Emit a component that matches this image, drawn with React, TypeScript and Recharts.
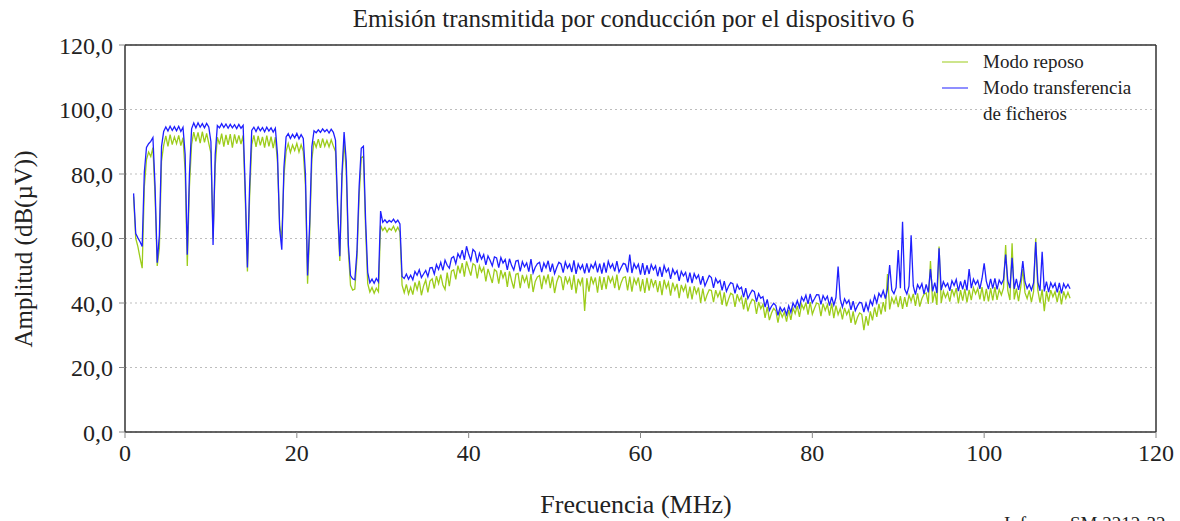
import {
  LineChart,
  Line,
  XAxis,
  YAxis,
  CartesianGrid,
  ReferenceLine,
} from "recharts";

const SERIF = '"Liberation Serif", "Times New Roman", serif';

// frecuencia (MHz), paso 0,25
const freq = [
  1, 1.25, 1.5, 1.75, 2, 2.25, 2.5, 2.75, 3, 3.25,
  3.5, 3.75, 4, 4.25, 4.5, 4.75, 5, 5.25, 5.5, 5.75,
  6, 6.25, 6.5, 6.75, 7, 7.25, 7.5, 7.75, 8, 8.25,
  8.5, 8.75, 9, 9.25, 9.5, 9.75, 10, 10.25, 10.5, 10.75,
  11, 11.25, 11.5, 11.75, 12, 12.25, 12.5, 12.75, 13, 13.25,
  13.5, 13.75, 14, 14.25, 14.5, 14.75, 15, 15.25, 15.5, 15.75,
  16, 16.25, 16.5, 16.75, 17, 17.25, 17.5, 17.75, 18, 18.25,
  18.5, 18.75, 19, 19.25, 19.5, 19.75, 20, 20.25, 20.5, 20.75,
  21, 21.25, 21.5, 21.75, 22, 22.25, 22.5, 22.75, 23, 23.25,
  23.5, 23.75, 24, 24.25, 24.5, 24.75, 25, 25.25, 25.5, 25.75,
  26, 26.25, 26.5, 26.75, 27, 27.25, 27.5, 27.75, 28, 28.25,
  28.5, 28.75, 29, 29.25, 29.5, 29.75, 30, 30.25, 30.5, 30.75,
  31, 31.25, 31.5, 31.75, 32, 32.25, 32.5, 32.75, 33, 33.25,
  33.5, 33.75, 34, 34.25, 34.5, 34.75, 35, 35.25, 35.5, 35.75,
  36, 36.25, 36.5, 36.75, 37, 37.25, 37.5, 37.75, 38, 38.25,
  38.5, 38.75, 39, 39.25, 39.5, 39.75, 40, 40.25, 40.5, 40.75,
  41, 41.25, 41.5, 41.75, 42, 42.25, 42.5, 42.75, 43, 43.25,
  43.5, 43.75, 44, 44.25, 44.5, 44.75, 45, 45.25, 45.5, 45.75,
  46, 46.25, 46.5, 46.75, 47, 47.25, 47.5, 47.75, 48, 48.25,
  48.5, 48.75, 49, 49.25, 49.5, 49.75, 50, 50.25, 50.5, 50.75,
  51, 51.25, 51.5, 51.75, 52, 52.25, 52.5, 52.75, 53, 53.25,
  53.5, 53.75, 54, 54.25, 54.5, 54.75, 55, 55.25, 55.5, 55.75,
  56, 56.25, 56.5, 56.75, 57, 57.25, 57.5, 57.75, 58, 58.25,
  58.5, 58.75, 59, 59.25, 59.5, 59.75, 60, 60.25, 60.5, 60.75,
  61, 61.25, 61.5, 61.75, 62, 62.25, 62.5, 62.75, 63, 63.25,
  63.5, 63.75, 64, 64.25, 64.5, 64.75, 65, 65.25, 65.5, 65.75,
  66, 66.25, 66.5, 66.75, 67, 67.25, 67.5, 67.75, 68, 68.25,
  68.5, 68.75, 69, 69.25, 69.5, 69.75, 70, 70.25, 70.5, 70.75,
  71, 71.25, 71.5, 71.75, 72, 72.25, 72.5, 72.75, 73, 73.25,
  73.5, 73.75, 74, 74.25, 74.5, 74.75, 75, 75.25, 75.5, 75.75,
  76, 76.25, 76.5, 76.75, 77, 77.25, 77.5, 77.75, 78, 78.25,
  78.5, 78.75, 79, 79.25, 79.5, 79.75, 80, 80.25, 80.5, 80.75,
  81, 81.25, 81.5, 81.75, 82, 82.25, 82.5, 82.75, 83, 83.25,
  83.5, 83.75, 84, 84.25, 84.5, 84.75, 85, 85.25, 85.5, 85.75,
  86, 86.25, 86.5, 86.75, 87, 87.25, 87.5, 87.75, 88, 88.25,
  88.5, 88.75, 89, 89.25, 89.5, 89.75, 90, 90.25, 90.5, 90.75,
  91, 91.25, 91.5, 91.75, 92, 92.25, 92.5, 92.75, 93, 93.25,
  93.5, 93.75, 94, 94.25, 94.5, 94.75, 95, 95.25, 95.5, 95.75,
  96, 96.25, 96.5, 96.75, 97, 97.25, 97.5, 97.75, 98, 98.25,
  98.5, 98.75, 99, 99.25, 99.5, 99.75, 100, 100.25, 100.5, 100.75,
  101, 101.25, 101.5, 101.75, 102, 102.25, 102.5, 102.75, 103, 103.25,
  103.5, 103.75, 104, 104.25, 104.5, 104.75, 105, 105.25, 105.5, 105.75,
  106, 106.25, 106.5, 106.75, 107, 107.25, 107.5, 107.75, 108, 108.25,
  108.5, 108.75, 109, 109.25, 109.5, 109.75, 110,
];

// Modo reposo, dB(µV)
const reposo = [
  73.0, 60.0, 57.5, 54.0, 50.8, 76.0, 84.5, 86.8, 85.4, 88.2,
  73.0, 51.5, 57.0, 84.0, 88.9, 91.8, 88.6, 92.2, 89.1, 91.5,
  89.4, 92.0, 88.8, 91.3, 81.0, 51.5, 76.0, 89.2, 93.0, 90.1,
  92.9, 89.6, 93.1, 89.8, 92.6, 89.5, 86.5, 60.0, 82.5, 91.4,
  89.2, 92.5, 88.5, 92.1, 89.0, 92.4, 88.2, 92.3, 89.4, 92.0,
  89.3, 92.0, 72.0, 49.8, 72.5, 89.0, 92.0, 88.4, 91.8, 88.9,
  91.5, 88.2, 91.9, 88.6, 91.6, 88.0, 91.4, 83.5, 64.0, 60.0,
  79.5, 87.0, 89.4, 86.7, 89.0, 87.3, 89.5, 86.8, 89.1, 87.0,
  76.5, 46.0, 62.0, 84.5, 90.2, 88.3, 90.8, 88.1, 91.0, 88.6,
  90.4, 88.4, 90.6, 88.7, 87.0, 68.0, 53.0, 78.0, 90.0, 81.0,
  56.0, 45.5, 44.0, 44.3, 54.0, 73.0, 85.0, 85.5, 63.0, 46.0,
  43.4, 44.8, 43.0, 44.6, 43.5, 64.0, 62.5, 63.4, 62.0, 63.2,
  62.6, 63.8, 62.2, 63.5, 62.0, 45.5, 43.2, 45.8, 42.8, 44.9,
  42.6, 46.4, 44.1, 46.9, 42.4, 45.3, 47.1, 43.3, 46.8, 47.5,
  44.5, 48.3, 46.0, 48.8, 45.6, 44.2, 49.4, 45.2, 49.9, 50.3,
  47.3, 51.6, 49.2, 52.4, 48.2, 52.9, 50.6, 48.5, 52.2, 51.7,
  47.6, 51.5, 49.6, 51.0, 46.7, 50.6, 48.4, 46.2, 50.4, 49.8,
  46.0, 50.2, 47.8, 49.6, 45.0, 49.8, 46.9, 44.5, 48.9, 49.2,
  44.6, 48.7, 46.5, 48.3, 44.5, 49.0, 43.4, 46.7, 48.1, 48.5,
  44.3, 48.5, 46.2, 48.9, 44.6, 48.2, 43.1, 46.5, 48.4, 47.9,
  44.0, 48.3, 46.1, 47.8, 44.1, 48.7, 43.0, 47.5, 45.6, 47.9,
  37.5, 47.7, 43.5, 48.2, 46.0, 47.9, 43.2, 48.3, 44.1, 48.0,
  44.3, 48.5, 46.4, 48.0, 44.6, 48.8, 44.0, 46.3, 47.9, 48.1,
  43.9, 48.2, 43.5, 47.6, 45.8, 47.9, 43.6, 47.4, 43.1, 47.8,
  43.8, 47.5, 45.1, 47.1, 43.4, 46.8, 42.4, 47.2, 44.6, 46.4,
  42.3, 46.3, 44.0, 45.9, 41.5, 45.6, 43.7, 45.5, 41.4, 45.1,
  41.1, 45.2, 42.9, 44.8, 40.0, 44.5, 40.5, 42.6, 44.1, 43.9,
  40.3, 44.0, 41.9, 43.6, 39.4, 43.3, 39.0, 41.2, 43.0, 42.6,
  38.8, 42.7, 40.6, 42.0, 38.0, 41.6, 37.4, 39.8, 41.2, 40.7,
  36.6, 40.3, 38.2, 39.6, 35.4, 38.8, 34.7, 36.9, 38.3, 37.6,
  33.9, 37.5, 35.6, 37.2, 34.2, 37.8, 34.8, 38.5, 36.7, 39.1,
  35.7, 39.6, 38.1, 40.1, 36.4, 40.3, 36.5, 38.4, 40.0, 39.7,
  35.9, 39.8, 37.7, 39.5, 36.1, 39.9, 35.3, 39.2, 36.4, 38.3,
  34.9, 38.5, 36.4, 37.9, 33.8, 37.4, 33.3, 35.5, 36.9, 36.5,
  31.6, 35.9, 33.0, 37.4, 34.6, 38.6, 35.7, 39.7, 36.5, 40.3,
  37.3, 49.0, 38.0, 41.6, 39.9, 41.9, 38.7, 42.1, 38.2, 41.8,
  38.8, 42.5, 40.6, 42.8, 39.1, 43.0, 38.9, 41.3, 42.7, 43.1,
  39.7, 53.0, 40.1, 43.5, 39.4, 57.5, 40.0, 43.6, 41.7, 43.3,
  40.4, 44.3, 42.2, 44.6, 39.9, 44.0, 40.7, 44.4, 40.2, 44.1,
  40.9, 44.7, 42.8, 44.5, 41.1, 44.9, 40.6, 44.4, 40.5, 44.6,
  40.8, 44.9, 41.0, 44.2, 42.5, 44.7, 58.0, 43.8, 40.9, 58.5,
  41.1, 44.5, 40.6, 44.8, 50.5, 43.2, 41.4, 43.9, 40.3, 43.5,
  60.0, 43.9, 40.1, 44.2, 37.5, 43.7, 40.4, 44.0, 41.9, 43.5,
  40.3, 43.8, 39.6, 43.6, 41.4, 43.3, 41.5,
];

// Modo transferencia de ficheros, dB(µV)
const transferencia = [
  74.0, 61.5, 60.2, 59.0, 57.5, 80.5, 88.2, 89.4, 90.1, 91.3,
  76.0, 52.5, 61.0, 88.5, 93.2, 94.6, 93.3, 94.8, 93.5, 94.7,
  93.4, 94.8, 93.2, 94.5, 86.0, 55.0, 80.0, 94.0, 95.8, 94.3,
  95.9, 94.5, 95.6, 94.3, 95.7, 94.6, 90.0, 58.0, 86.0, 95.0,
  94.3, 95.6, 94.4, 95.5, 94.2, 95.4, 94.3, 95.3, 94.1, 95.4,
  94.2, 95.1, 75.0, 51.0, 76.0, 93.5, 94.5, 93.2, 94.6, 93.4,
  94.4, 93.1, 94.5, 93.3, 94.3, 93.0, 94.2, 86.0, 63.0, 56.5,
  82.0, 91.5, 92.5, 91.0, 92.3, 91.2, 92.6, 90.9, 92.2, 91.0,
  80.0, 48.5, 65.0, 88.5, 93.4, 92.8, 93.7, 92.9, 94.0, 93.1,
  93.8, 92.7, 93.9, 92.9, 90.5, 70.0, 54.5, 80.0, 93.0, 84.0,
  58.0, 48.5, 47.5, 47.2, 56.0, 76.0, 88.0, 88.6, 66.0, 49.5,
  46.3, 47.4, 46.1, 47.6, 46.5, 68.5, 65.0, 65.8, 64.9, 65.6,
  65.1, 66.0, 64.9, 65.7, 64.5, 48.2, 47.6, 49.0, 47.4, 48.6,
  47.2, 49.8, 48.6, 50.3, 47.9, 49.0, 50.1, 48.2, 50.9, 51.0,
  49.0, 51.9, 50.4, 52.6, 50.1, 53.3, 51.7, 50.8, 53.9, 54.4,
  52.2, 55.3, 54.0, 56.4, 53.4, 57.6, 55.1, 53.2, 56.6, 55.9,
  52.5, 55.4, 53.6, 55.0, 51.8, 54.6, 53.2, 51.5, 54.3, 54.0,
  51.0, 54.1, 52.4, 53.5, 50.3, 53.7, 51.6, 50.2, 53.0, 53.2,
  49.8, 52.8, 51.2, 52.4, 49.7, 53.6, 49.3, 51.1, 52.2, 52.6,
  49.6, 52.4, 50.9, 53.1, 49.7, 52.2, 49.1, 51.0, 52.6, 52.1,
  49.4, 52.7, 50.8, 52.0, 49.6, 53.2, 49.0, 52.1, 50.5, 51.8,
  49.2, 52.3, 49.4, 51.9, 50.8, 52.6, 49.5, 52.2, 49.1, 52.5,
  49.4, 52.9, 50.9, 52.1, 49.8, 53.0, 49.6, 51.0, 52.3, 52.0,
  49.5, 55.0, 49.3, 52.2, 50.7, 52.0, 48.8, 52.4, 48.7, 51.7,
  49.0, 51.9, 50.3, 51.5, 48.3, 51.2, 48.1, 51.6, 49.6, 50.7,
  47.5, 50.5, 48.9, 50.0, 46.9, 49.8, 48.4, 49.5, 46.4, 49.4,
  46.2, 49.1, 47.6, 48.7, 45.7, 48.3, 45.3, 46.9, 48.5, 47.9,
  44.7, 47.6, 46.2, 47.0, 43.9, 46.8, 43.6, 45.2, 46.3, 46.0,
  43.0, 45.7, 44.3, 44.9, 41.8, 44.6, 41.4, 42.8, 44.0, 43.5,
  40.4, 42.9, 41.5, 42.0, 38.7, 41.1, 37.7, 39.0, 39.9, 39.2,
  36.2, 38.7, 37.4, 38.4, 36.4, 39.1, 37.1, 40.0, 38.6, 40.7,
  38.6, 41.8, 40.6, 42.4, 39.7, 42.8, 40.1, 41.3, 42.6, 42.5,
  39.6, 42.3, 40.9, 42.1, 39.2, 41.9, 39.3, 41.7, 51.3, 41.2,
  38.7, 41.3, 39.9, 40.9, 37.9, 40.6, 37.6, 39.1, 40.2, 40.0,
  37.2, 39.9, 37.7, 40.8, 39.3, 42.2, 40.0, 43.0, 41.9, 43.8,
  41.4, 44.4, 51.8, 44.0, 42.9, 44.8, 56.4, 44.6, 65.2, 44.3,
  42.8, 45.2, 61.0, 45.3, 42.6, 45.7, 44.4, 46.0, 42.8, 45.8,
  43.3, 50.5, 43.6, 46.3, 43.1, 57.0, 44.0, 46.6, 45.1, 46.1,
  43.8, 46.9, 45.4, 47.3, 43.7, 46.7, 44.2, 47.2, 43.9, 50.5,
  44.6, 47.4, 45.8, 47.0, 44.4, 47.6, 52.3, 46.8, 44.3, 47.5,
  44.5, 47.6, 44.2, 47.1, 45.9, 47.3, 55.0, 46.9, 44.6, 54.0,
  44.4, 47.5, 44.1, 47.2, 53.0, 46.6, 44.5, 45.8, 44.0, 46.2,
  58.9, 46.5, 43.8, 55.9, 43.6, 46.6, 43.4, 46.3, 44.8, 46.1,
  43.3, 46.2, 43.0, 46.0, 44.6, 45.8, 44.4,
];

const xTicks = [0, 20, 40, 60, 80, 100, 120];
const yTicks = [0, 20, 40, 60, 80, 100, 120];

const seriesNames = ["Modo reposo", "Modo transferencia de ficheros"];
const seriesColors = ["#9ccc1a", "#1f1fff"];

const data = freq.map((f, i) => ({
  f,
  reposo: reposo[i],
  transferencia: transferencia[i],
}));

const fmt = (v: number) => v.toFixed(1).replace(".", ",");

export default function App() {
  return (
    <div
      style={{
        position: "absolute",
        left: 0,
        top: 0,
        width: 1180,
        height: 521,
        overflow: "hidden",
        background: "#fff",
        fontFamily: SERIF,
        color: "#222",
      }}
    >
      <div
        style={{
          position: "absolute",
          left: 0,
          width: 1267,
          top: 4,
          textAlign: "center",
          fontSize: 25,
          lineHeight: "30px",
        }}
      >
        Emisión transmitida por conducción por el dispositivo 6
      </div>

      <LineChart
        width={1180}
        height={521}
        data={data}
        margin={{ top: 45, right: 24, bottom: 49, left: 0 }}
      >
        <CartesianGrid vertical={false} stroke="#bdbdbd" strokeDasharray="2 3" />
        <XAxis
          type="number"
          dataKey="f"
          domain={[0, 120]}
          ticks={xTicks}
          interval={0}
          height={40}
          tickSize={6}
          tickMargin={6}
          axisLine={{ stroke: "#333", strokeWidth: 1.5 }}
          tickLine={{ stroke: "#888" }}
          tick={{ fontFamily: SERIF, fontSize: 24, fill: "#222" }}
        />
        <YAxis
          type="number"
          domain={[0, 120]}
          ticks={yTicks}
          interval={0}
          width={125}
          tickSize={6}
          tickMargin={6}
          tickFormatter={fmt}
          axisLine={{ stroke: "#333", strokeWidth: 1.5 }}
          tickLine={{ stroke: "#888" }}
          tick={{ fontFamily: SERIF, fontSize: 24, fill: "#222" }}
        />
        <ReferenceLine y={120} stroke="#333" strokeWidth={1.5} />
        <ReferenceLine x={120} stroke="#333" strokeWidth={1.5} />
        <Line
          type="linear"
          dataKey="reposo"
          name={seriesNames[0]}
          stroke={seriesColors[0]}
          strokeWidth={1.3}
          dot={false}
          isAnimationActive={false}
        />
        <Line
          type="linear"
          dataKey="transferencia"
          name={seriesNames[1]}
          stroke={seriesColors[1]}
          strokeWidth={1.3}
          dot={false}
          isAnimationActive={false}
        />
      </LineChart>

      {/* leyenda */}
      <div
        style={{
          position: "absolute",
          left: 942,
          top: 49,
          fontSize: 19,
          lineHeight: "26px",
        }}
      >
        {seriesNames.map((name, i) => (
          <div key={name} style={{ display: "flex", alignItems: "flex-start" }}>
            <span
              style={{
                width: 26,
                marginTop: 12,
                marginRight: 15,
                borderTop: `2px solid ${seriesColors[i]}`,
                opacity: 0.5,
              }}
            />
            <span style={{ width: 158 }}>{name}</span>
          </div>
        ))}
      </div>

      <div
        style={{
          position: "absolute",
          left: 0,
          width: 1272,
          top: 490,
          textAlign: "center",
          fontSize: 26,
          lineHeight: "30px",
        }}
      >
        Frecuencia (MHz)
      </div>

      <div
        style={{
          position: "absolute",
          left: 24,
          top: 249,
          transform: "translate(-50%, -50%) rotate(-90deg)",
          whiteSpace: "nowrap",
          fontSize: 25,
          lineHeight: "30px",
        }}
      >
        Amplitud (dB(µV))
      </div>

      <div
        style={{
          position: "absolute",
          left: 1004,
          top: 513,
          fontSize: 19,
          lineHeight: "22px",
          whiteSpace: "nowrap",
        }}
      >
        Informe SM.2212-32
      </div>
    </div>
  );
}
